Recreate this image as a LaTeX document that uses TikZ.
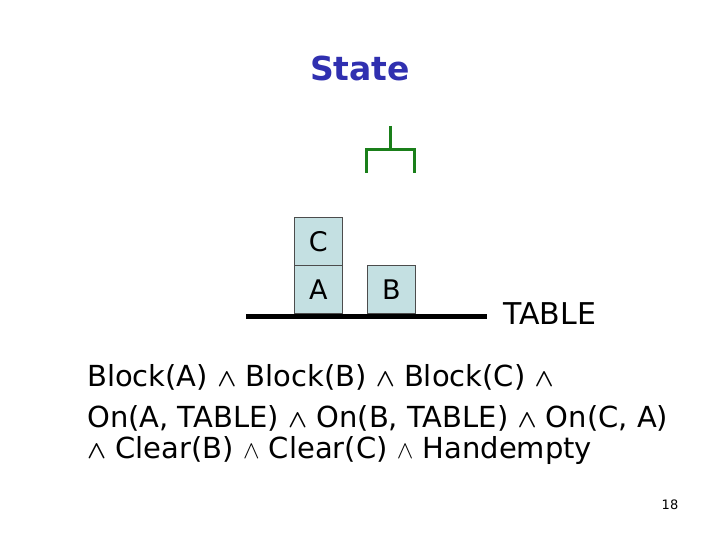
\documentclass[tikz,border=0pt]{standalone}
\usepackage{amsmath,amssymb,bm}
\usepackage{fontspec}
\setmainfont{DejaVu Sans}
\definecolor{blkfill}{HTML}{C4E0E2}
\definecolor{gripc}{HTML}{1A7F1A}
\definecolor{statec}{HTML}{3030B0}
\begin{document}
\begin{tikzpicture}[x=1pt,y=-1pt,
  blk/.style={draw=black!70,line width=0.6pt,fill=blkfill,minimum width=48pt,minimum height=48pt,inner sep=0pt,font=\fontsize{27}{30}\selectfont},
  grip/.style={draw=gripc,line width=3pt},
  txt/.style={anchor=west,inner sep=0pt,font=\fontsize{29}{33}\selectfont}]
\useasboundingbox (0,0) rectangle (720,540);
\node[font=\bfseries\fontsize{33}{38}\selectfont,text=statec] (st) at (360,68) {State};
\node[blk,anchor=north west] (c) at (294,217) {C};
\node[blk,anchor=north west] (a) at (294,265) {A};
\node[blk,anchor=north west] (b) at (367,265) {B};
\coordinate (t1) at (246,316); \coordinate (t2) at (487,316);
\draw[line width=5pt] (t1) -- (t2);
\coordinate (g0) at (390,126); \coordinate (g1) at (390,150);
\coordinate (gl) at (366,173); \coordinate (gr) at (414,173);
\draw[grip] (g0) -- (g1);
\draw[grip] (gl) |- (g1) -| (gr);
\node[txt,font=\fontsize{30}{33}\selectfont] (tab) at (503,314) {TABLE};
\node[txt] (l1) at (87,377) {Block(A) $\bm{\wedge}$ Block(B) $\bm{\wedge}$ Block(C) $\bm{\wedge}$};
\node[txt] (l2) at (87,418) {On(A, TABLE) $\bm{\wedge}$ On(B, TABLE) $\bm{\wedge}$ On(C, A)};
\node[txt] (l3) at (87,450) {$\bm{\wedge}$ Clear(B) $\wedge$ Clear(C) $\wedge$ Handempty};
\node[font=\fontsize{13}{15}\selectfont] (n) at (670,505) {18};
\end{tikzpicture}
\end{document}
